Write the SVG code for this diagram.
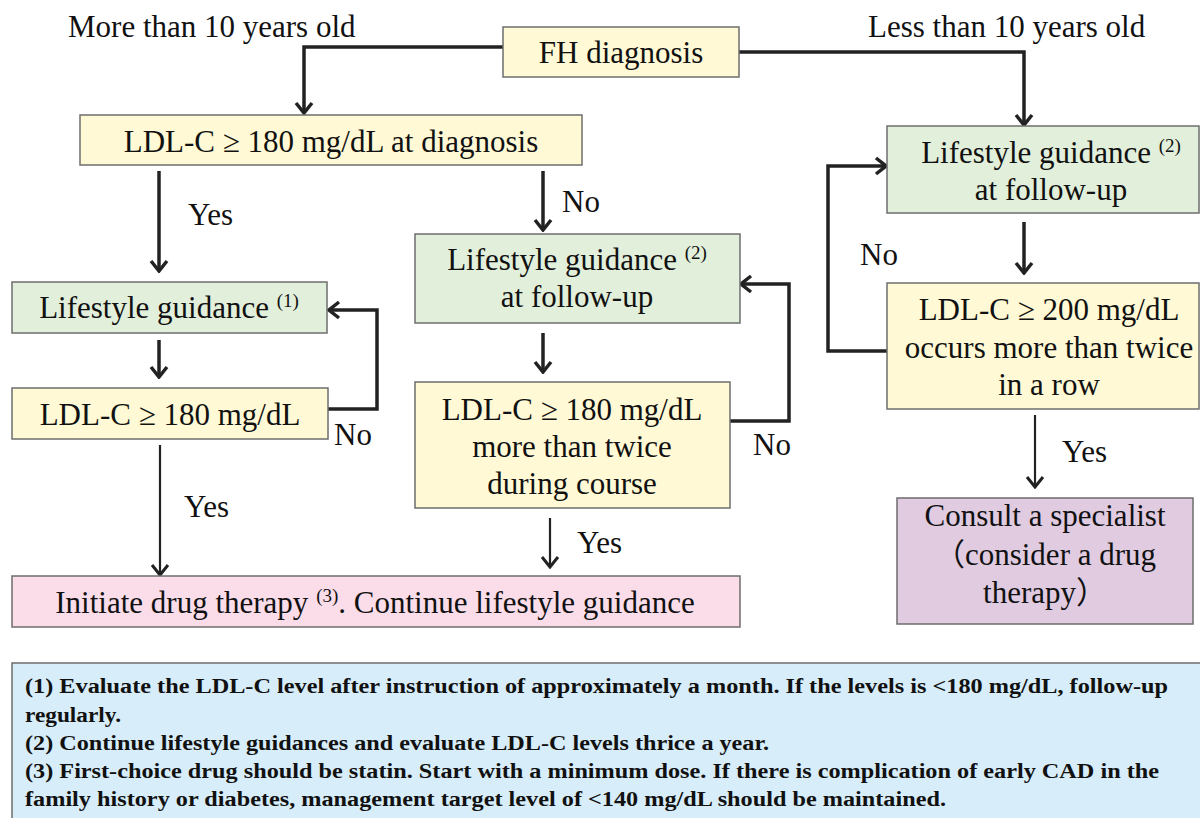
<svg xmlns="http://www.w3.org/2000/svg" width="1200" height="818" viewBox="0 0 1200 818">
<style>
.t{font-family:"Liberation Serif","Noto Sans CJK JP",serif;font-size:31px;fill:#111}
.c{text-anchor:middle}
.sup{font-size:19px}
.n{font-family:"Liberation Serif",serif;font-size:20px;font-weight:bold;fill:#111}
.box{stroke:#6e6e6e;stroke-width:1.5}
.y{fill:#FFF9D5}
.g{fill:#E2EFDA}
.p{fill:#FADDE9}
.v{fill:#E0CBE1}
.b{fill:#D7EDF9}
.ln{fill:none;stroke:#222;stroke-width:3.5;marker-end:url(#ah)}
.ln2{fill:none;stroke:#222;stroke-width:2.2;marker-end:url(#ah2)}
</style>
<defs>
<marker id="ah" markerUnits="userSpaceOnUse" viewBox="0 0 14 20" refX="12" refY="10" markerWidth="14" markerHeight="20" orient="auto">
<path d="M2,2 L12,10 L2,18" fill="none" stroke="#222" stroke-width="3.5"/>
</marker>
<marker id="ah2" markerUnits="userSpaceOnUse" viewBox="0 0 14 20" refX="12" refY="10" markerWidth="14" markerHeight="20" orient="auto">
<path d="M2,2 L12,10 L2,18" fill="none" stroke="#222" stroke-width="3"/>
</marker>
</defs>
<rect width="1200" height="818" fill="#fff"/>

<g id="connectors">
<polyline class="ln" points="503,47 304,47 304,113"/>
<polyline class="ln" points="739,52 1024,52 1024,125"/>
<line class="ln" x1="159" y1="171" x2="159" y2="271"/>
<line class="ln" x1="543" y1="171" x2="543" y2="230"/>
<line class="ln" x1="159" y1="340" x2="159" y2="377"/>
<polyline class="ln" points="328,409 377,409 377,310 329,310"/>
<line class="ln2" x1="160" y1="445" x2="160" y2="575"/>
<line class="ln" x1="543" y1="333" x2="543" y2="372"/>
<polyline class="ln" points="730,421 789,421 789,284 741,284"/>
<line class="ln2" x1="550" y1="518" x2="550" y2="567"/>
<line class="ln" x1="1024" y1="222" x2="1024" y2="273"/>
<polyline class="ln" points="887,351 828,351 828,166 886,166"/>
<line class="ln2" x1="1035" y1="415" x2="1035" y2="487"/>
</g>

<g id="labels">
<text class="t" x="68" y="37">More than 10 years old</text>
<text class="t" x="868" y="37">Less than 10 years old</text>
<text class="t" x="188" y="225">Yes</text>
<text class="t" x="562" y="212">No</text>
<text class="t" x="860" y="265">No</text>
<text class="t" x="334" y="445">No</text>
<text class="t" x="753" y="455">No</text>
<text class="t" x="184" y="517">Yes</text>
<text class="t" x="577" y="553">Yes</text>
<text class="t" x="1062" y="462">Yes</text>
</g>

<g id="n-fh">
<rect class="box y" x="503" y="27" width="236" height="50"/>
<text class="t c" x="621" y="63">FH diagnosis</text>
</g>

<g id="n-ldl-diag">
<rect class="box y" x="80" y="115" width="502" height="50"/>
<text class="t c" x="331" y="152">LDL-C ≥ 180 mg/dL at diagnosis</text>
</g>

<g id="n-life1">
<rect class="box g" x="12" y="282" width="315" height="51"/>
<text class="t c" x="169" y="318">Lifestyle guidance <tspan class="sup" dy="-11">(1)</tspan></text>
</g>

<g id="n-ldl-left">
<rect class="box y" x="12" y="388" width="316" height="51"/>
<text class="t c" x="170" y="425">LDL-C ≥ 180 mg/dL</text>
</g>

<g id="n-life2-mid">
<rect class="box g" x="415" y="234" width="325" height="89"/>
<text class="t c" x="577" y="270">Lifestyle guidance <tspan class="sup" dy="-11">(2)</tspan></text>
<text class="t c" x="577" y="307">at follow-up</text>
</g>

<g id="n-ldl-mid">
<rect class="box y" x="415" y="382" width="315" height="126"/>
<text class="t c" x="572" y="420">LDL-C ≥ 180 mg/dL</text>
<text class="t c" x="572" y="457">more than twice</text>
<text class="t c" x="572" y="494">during course</text>
</g>

<g id="n-life2-right">
<rect class="box g" x="887" y="126" width="312" height="87"/>
<text class="t c" x="1051" y="163">Lifestyle guidance <tspan class="sup" dy="-11">(2)</tspan></text>
<text class="t c" x="1051" y="200">at follow-up</text>
</g>

<g id="n-ldl200">
<rect class="box y" x="887" y="283" width="312" height="126"/>
<text class="t c" x="1049" y="320">LDL-C ≥ 200 mg/dL</text>
<text class="t c" x="1049" y="358">occurs more than twice</text>
<text class="t c" x="1049" y="395">in a row</text>
</g>

<g id="n-specialist">
<rect class="box v" x="897" y="498" width="296" height="126"/>
<text class="t c" x="1045" y="526">Consult a specialist</text>
<text class="t c" x="1045" y="565">（consider a drug</text>
<text class="t c" x="1045" y="603">therapy）</text>
</g>

<g id="n-drug">
<rect class="box p" x="12" y="576" width="728" height="51"/>
<text class="t c" x="375" y="613">Initiate drug therapy <tspan class="sup" dy="-11">(3)</tspan><tspan dy="11">. Continue lifestyle guidance</tspan></text>
</g>

<g id="n-notes">
<rect class="box b" x="12" y="663" width="1200" height="170"/>
<text class="n" x="25" y="693" textLength="1143" lengthAdjust="spacingAndGlyphs">(1) Evaluate the LDL-C level after instruction of approximately a month. If the levels is &lt;180 mg/dL, follow-up</text>
<text class="n" x="25" y="722" textLength="96" lengthAdjust="spacingAndGlyphs">regularly.</text>
<text class="n" x="25" y="750" textLength="744" lengthAdjust="spacingAndGlyphs">(2) Continue lifestyle guidances and evaluate LDL-C levels thrice a year.</text>
<text class="n" x="25" y="778" textLength="1134" lengthAdjust="spacingAndGlyphs">(3) First-choice drug should be statin. Start with a minimum dose. If there is complication of early CAD in the</text>
<text class="n" x="25" y="806" textLength="921" lengthAdjust="spacingAndGlyphs">family history or diabetes, management target level of &lt;140 mg/dL should be maintained.</text>
</g>
</svg>
